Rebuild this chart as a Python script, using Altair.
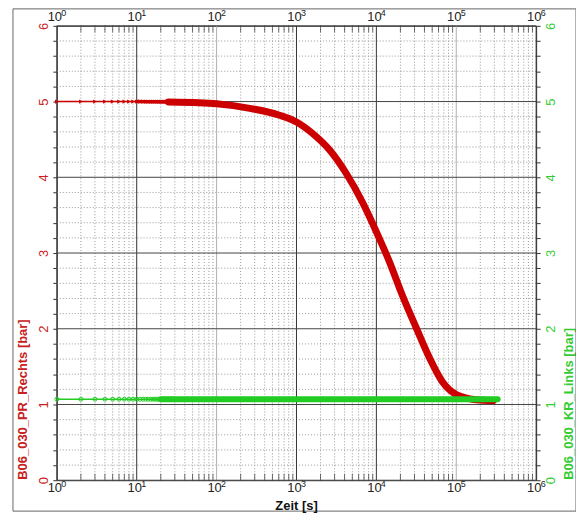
import altair as alt
import pandas as pd

# ---- data ----
red_t = [1, 10, 25, 60, 100, 260, 613, 1000, 1585, 2600, 4200, 6700, 10000, 14500,
         21000, 31600, 46000, 67000, 100000, 158000, 220000, 290000]
red_v = [5.0, 5.0, 4.995, 4.985, 4.97, 4.91, 4.82, 4.73, 4.58, 4.36, 4.05, 3.67, 3.28, 2.89,
         2.45, 2.01, 1.62, 1.30, 1.13, 1.07, 1.055, 1.05]
green_t = [1, 20, 1000, 10000, 100000, 330000]
green_v = [1.07, 1.07, 1.07, 1.07, 1.07, 1.07]

marker_t = [1, 2, 3, 4, 5, 6, 7, 8, 9, 10, 11, 12, 13, 14, 15, 16, 17, 18, 19, 20,
            21, 22, 23, 24, 25, 26, 27, 28, 29, 30]
red_marker_v = [5.0] * len(marker_t)
green_marker_v = [1.07] * len(marker_t)

decades = [1, 10, 100, 1000, 10000, 100000, 1000000]
exponents = ["0", "1", "2", "3", "4", "5", "6"]
minor_x = [m * d for d in decades[:-1] for m in range(2, 10)]
y_major = [0, 1, 2, 3, 4, 5, 6]
y_ticks = [round(i * 0.2, 1) for i in range(31)]
y_minor = [v for v in y_ticks if abs(v - round(v)) > 0.01]

W, H = 481, 456
FONT = "Liberation Sans"
RED = "#cc0000"
RED_TXT = "#c82020"
GREEN = "#22cc22"
GREEN_TXT = "#33cc33"

xs = alt.Scale(type="log", domain=[1, 1000000])
ys = alt.Scale(domain=[0, 6], nice=False, zero=False)

red_df = pd.DataFrame({"t": red_t, "v": red_v})
green_df = pd.DataFrame({"t": green_t, "v": green_v})
rmark_df = pd.DataFrame({"t": marker_t, "v": red_marker_v})
gmark_df = pd.DataFrame({"t": marker_t, "v": green_marker_v})
dec_df = pd.DataFrame({"t": decades, "e": exponents, "b": ["10"] * len(decades)})
minx_df = pd.DataFrame({"t": minor_x})
ymaj_df = pd.DataFrame({"v": y_major})
ymin_df = pd.DataFrame({"v": y_minor})
one_df = pd.DataFrame({"a": [0]})

label_expr = "abs(datum.value - round(datum.value)) < 0.01 ? format(datum.value, 'd') : ''"

left_axis = alt.Axis(
    values=y_ticks, labelExpr=label_expr, orient="left", grid=False, domain=False,
    tickSize=4, tickColor="#333", labelAngle=270, labelAlign="center", labelBaseline="bottom",
    labelColor=RED_TXT, labelFont=FONT, labelFontSize=13, labelPadding=2,
    title="B06_030_PR_Rechts [bar]", titleColor=RED_TXT, titleFont=FONT, titleFontSize=13,
    titleFontWeight="bold", titleAngle=270, titleAlign="left", titleBaseline="middle",
    titleX=-34, titleY=H - 1)
right_axis = alt.Axis(
    values=y_ticks, labelExpr=label_expr, orient="right", grid=False, domain=False,
    tickSize=4, tickColor="#333", labelAngle=270, labelAlign="center", labelBaseline="top",
    labelColor=GREEN_TXT, labelFont=FONT, labelFontSize=13, labelPadding=4,
    title="B06_030_KR_Links [bar]", titleColor=GREEN_TXT, titleFont=FONT, titleFontSize=13,
    titleFontWeight="bold", titleAngle=270, titleAlign="left", titleBaseline="middle",
    titleX=32, titleY=H - 1)


def X():
    return alt.X("t:Q", scale=xs, axis=None)


def YL():
    return alt.Y("v:Q", scale=ys, axis=left_axis)


def YR():
    return alt.Y("v:Q", scale=ys, axis=right_axis)


frame = alt.Chart(one_df).mark_rect(fillOpacity=0, stroke="#666", strokeWidth=1).encode(
    x=alt.value(-44), x2=alt.value(521), y=alt.value(-17), y2=alt.value(487))

minor_xg = alt.Chart(minx_df).mark_rule(color="#9a9a9a", strokeDash=[1, 2], strokeWidth=1).encode(x=X())
minor_yg = alt.Chart(ymin_df).mark_rule(color="#9a9a9a", strokeDash=[1, 2], strokeWidth=1).encode(y=YL())
major_xg = alt.Chart(dec_df).mark_rule(strokeWidth=1).encode(
    x=X(),
    color=alt.condition("datum.t == 100 || datum.t == 100000", alt.value("#b0b0b0"), alt.value("#333333")))
major_yg = alt.Chart(ymaj_df).mark_rule(color="#444", strokeWidth=1).encode(y=YL())

top_ticks = alt.Chart(minx_df).mark_tick(color="#333", size=7, thickness=1).encode(x=X(), y=alt.value(3))
bot_ticks = alt.Chart(minx_df).mark_tick(color="#333", size=7, thickness=1).encode(x=X(), y=alt.value(H - 3))

top_base = alt.Chart(dec_df).mark_text(font=FONT, fontSize=13, color="#222", dx=-2, baseline="middle").encode(
    x=X(), y=alt.value(-9), text="b:N")
top_exp = alt.Chart(dec_df).mark_text(font=FONT, fontSize=9, color="#222", dx=7, dy=-4, baseline="middle").encode(
    x=X(), y=alt.value(-9), text="e:N")
bot_base = alt.Chart(dec_df).mark_text(font=FONT, fontSize=13, color="#222", dx=-2, baseline="middle").encode(
    x=X(), y=alt.value(H + 8), text="b:N")
bot_exp = alt.Chart(dec_df).mark_text(font=FONT, fontSize=9, color="#222", dx=7, dy=-4, baseline="middle").encode(
    x=X(), y=alt.value(H + 8), text="e:N")
x_title = alt.Chart(one_df).mark_text(font=FONT, fontSize=13, fontWeight="bold", color="#111", text="Zeit [s]",
                                      baseline="middle").encode(x=alt.value(W / 2), y=alt.value(H + 26))

red_thin = alt.Chart(red_df).mark_line(color=RED, strokeWidth=1.5, interpolate="monotone").encode(x=X(), y=YL())
red_mid = alt.Chart(red_df).mark_line(color=RED, strokeWidth=3.5, interpolate="monotone").encode(
    x=X(), y=YL()).transform_filter("datum.t >= 10")
red_thick = alt.Chart(red_df).mark_line(color=RED, strokeWidth=7, interpolate="monotone",
                                        strokeCap="round").encode(x=X(), y=YL()).transform_filter("datum.t >= 25")
red_marks = alt.Chart(rmark_df).mark_point(shape="triangle-right", filled=True, color=RED, size=18,
                                           opacity=1).encode(x=X(), y=YL())

green_thin = alt.Chart(green_df).mark_line(color=GREEN, strokeWidth=1.5).encode(x=X(), y=YR())
green_thick = alt.Chart(green_df).mark_line(color=GREEN, strokeWidth=6, strokeCap="round").encode(
    x=X(), y=YR()).transform_filter("datum.t >= 20")
green_marks = alt.Chart(gmark_df).mark_point(shape="circle", filled=False, color=GREEN, size=16,
                                             strokeWidth=1, opacity=1).encode(x=X(), y=YR())

left = alt.layer(frame, minor_xg, minor_yg, major_xg, major_yg, top_ticks, bot_ticks,
                 top_base, top_exp, bot_base, bot_exp, x_title, red_thin, red_mid, red_thick, red_marks)
right = alt.layer(green_thin, green_thick, green_marks)

chart = alt.layer(left, right).resolve_scale(y="independent").properties(
    width=W, height=H,
    autosize=alt.AutoSizeParams(type="none"),
    padding={"left": 49, "top": 17, "right": 40, "bottom": 33},
    background="white",
).configure_view(stroke="#333", strokeWidth=1)

chart.save("out.html", embed_options={"renderer": "svg", "actions": False})
